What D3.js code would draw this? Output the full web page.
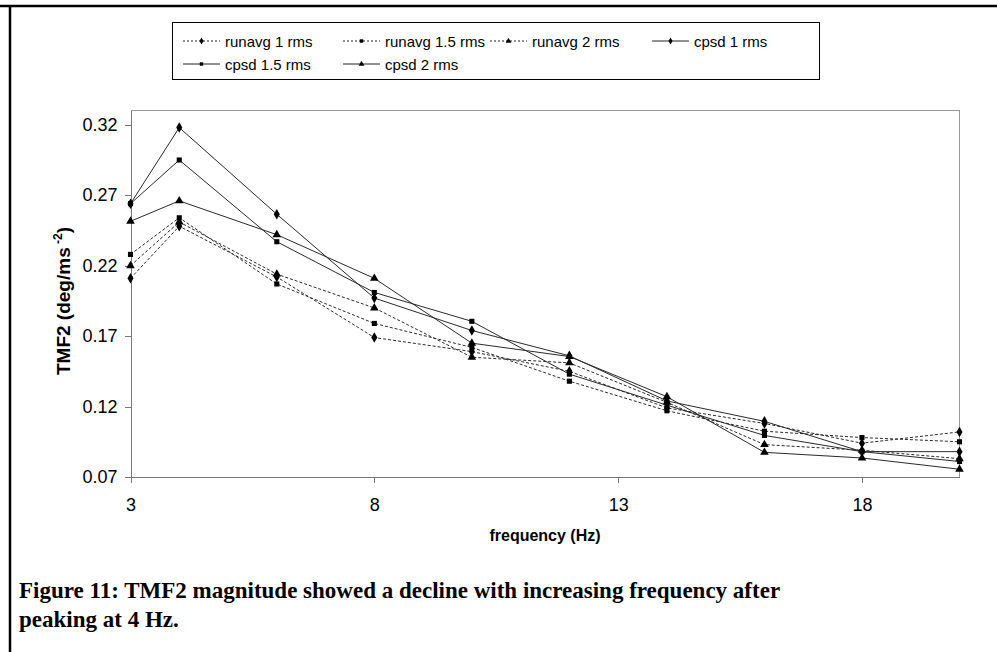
<!DOCTYPE html>
<meta charset="utf-8">
<style>
body { margin: 0; background: #fff; }
svg { display: block; }
.axis path, .axis line { stroke: #777; shape-rendering: crispEdges; }
.axis text { font: 18px "Liberation Sans", Arial, sans-serif; fill: #000; }
.line { fill: none; stroke: #2a2a2a; stroke-width: 1px; }
.dashed { stroke-dasharray: 3,2; }
.caption { font: bold 23px "Liberation Serif", "Times New Roman", serif; }
</style>
<body>
<script src="https://cdnjs.cloudflare.com/ajax/libs/d3/7.8.5/d3.min.js"></script>
<script>
var freq = [3, 4, 6, 8, 10, 12, 14, 16, 18, 20];

var runavg1  = [0.211, 0.248, 0.212, 0.169, 0.159, 0.145, 0.119, 0.108, 0.094, 0.102];
var runavg15 = [0.228, 0.254, 0.207, 0.179, 0.162, 0.138, 0.117, 0.1025, 0.098, 0.095];
var runavg2  = [0.220, 0.251, 0.214, 0.190, 0.155, 0.151, 0.123, 0.093, 0.089, 0.083];
var cpsd1    = [0.264, 0.318, 0.2565, 0.197, 0.174, 0.156, 0.124, 0.1095, 0.088, 0.088];
var cpsd15   = [0.264, 0.295, 0.237, 0.201, 0.1805, 0.143, 0.121, 0.0995, 0.088, 0.081];
var cpsd2    = [0.2515, 0.266, 0.242, 0.211, 0.165, 0.1555, 0.127, 0.0875, 0.0835, 0.0755];

var yTicks = [0.07, 0.12, 0.17, 0.22, 0.27, 0.32];
var xTicks = [3, 8, 13, 18];

var series = [
  {name: "runavg 1 rms",   values: runavg1,  sym: d3.symbolDiamond,  dashed: true},
  {name: "runavg 1.5 rms", values: runavg15, sym: d3.symbolSquare,   dashed: true},
  {name: "runavg 2 rms",   values: runavg2,  sym: d3.symbolTriangle, dashed: true},
  {name: "cpsd 1 rms",     values: cpsd1,    sym: d3.symbolDiamond,  dashed: false},
  {name: "cpsd 1.5 rms",   values: cpsd15,   sym: d3.symbolSquare,   dashed: false},
  {name: "cpsd 2 rms",     values: cpsd2,    sym: d3.symbolTriangle, dashed: false}
];

function sizeOf(sym, big) {
  var s = sym === d3.symbolDiamond ? 32 : sym === d3.symbolSquare ? 26 : 32;
  return big ? s : s * 0.45;
}

var W = 997, H = 652;
var svg = d3.select("body").append("svg").attr("width", W).attr("height", H);

// outer frame (top and left only)
svg.append("line").attr("x1", 0).attr("x2", W).attr("y1", 6).attr("y2", 6)
    .attr("stroke", "#000").attr("stroke-width", 2.5);
svg.append("line").attr("x1", 10).attr("x2", 10).attr("y1", 5).attr("y2", H)
    .attr("stroke", "#000").attr("stroke-width", 2.5);

var x = d3.scaleLinear().domain([3, 20]).range([130.5, 959.5]),
    y = d3.scaleLinear().domain([0.07, 0.33]).range([477, 110.7]);

// plot area border (top/right)
svg.append("path")
    .attr("d", "M" + x(3) + "," + y(0.33) + "H" + x(20) + "V" + y(0.07))
    .attr("fill", "none").attr("stroke", "#999").attr("shape-rendering", "crispEdges");

svg.append("g")
    .attr("class", "axis")
    .attr("transform", "translate(" + x(3) + ",0)")
    .call(d3.axisLeft(y).tickValues(yTicks).tickFormat(d3.format(".2f")).tickSize(6).tickSizeOuter(0).tickPadding(7));

svg.append("g")
    .attr("class", "axis")
    .attr("transform", "translate(0," + y(0.07) + ")")
    .call(d3.axisBottom(x).tickValues(xTicks).tickSize(6).tickSizeOuter(0).tickPadding(15));

var line = d3.line()
    .x(function(d, i) { return x(freq[i]); })
    .y(function(d) { return y(d); });

var g = svg.selectAll(".series")
    .data(series)
  .enter().append("g")
    .attr("class", "series");

g.append("path")
    .attr("class", function(d) { return d.dashed ? "line dashed" : "line"; })
    .attr("d", function(d) { return line(d.values); });

g.selectAll(".pt")
    .data(function(d) { return d.values.map(function(v, i) { return {v: v, f: freq[i], sym: d.sym}; }); })
  .enter().append("path")
    .attr("class", "pt")
    .attr("transform", function(d) { return "translate(" + x(d.f) + "," + y(d.v) + ")"; })
    .attr("d", function(d) { return d3.symbol().type(d.sym).size(sizeOf(d.sym, true))(); })
    .attr("fill", "#000");

// axis titles
svg.append("text")
    .attr("x", 545).attr("y", 541)
    .attr("text-anchor", "middle")
    .style("font", "bold 16px 'Liberation Sans', Arial, sans-serif")
    .text("frequency (Hz)");

var yt = svg.append("text")
    .attr("transform", "translate(70," + 301 + ") rotate(-90)")
    .attr("text-anchor", "middle")
    .style("font", "bold 19px 'Liberation Sans', Arial, sans-serif");
yt.append("tspan").text("TMF2 (deg/ms");
yt.append("tspan").attr("dy", -8).style("font-size", "12px").text(" -2");
yt.append("tspan").attr("dy", 8).text(")");

// legend
svg.append("rect")
    .attr("x", 172.5).attr("y", 22.5).attr("width", 647).attr("height", 57)
    .attr("fill", "#fff").attr("stroke", "#000");

var legX = [183, 343, 490, 652], legY = [41, 64];
var leg = svg.selectAll(".leg")
    .data(series)
  .enter().append("g")
    .attr("class", "leg")
    .attr("transform", function(d, i) { return "translate(" + legX[i % 4] + "," + legY[Math.floor(i / 4)] + ")"; });

leg.append("line")
    .attr("x1", 0).attr("x2", 37).attr("y1", 0).attr("y2", 0)
    .attr("stroke", "#222")
    .attr("stroke-dasharray", function(d) { return d.dashed ? "2,2" : null; });

leg.append("path")
    .attr("transform", "translate(18.5,0)")
    .attr("d", function(d) { return d3.symbol().type(d.sym).size(sizeOf(d.sym, false))(); })
    .attr("fill", "#000");

leg.append("text")
    .attr("x", 42).attr("y", 5.5)
    .style("font", "15px 'Liberation Sans', Arial, sans-serif")
    .text(function(d) { return d.name; });

// caption
svg.append("text").attr("class", "caption").attr("x", 19).attr("y", 598)
    .text("Figure 11: TMF2 magnitude showed a decline with increasing frequency after");
svg.append("text").attr("class", "caption").attr("x", 19).attr("y", 627)
    .text("peaking at 4 Hz.");
</script>
</body>
